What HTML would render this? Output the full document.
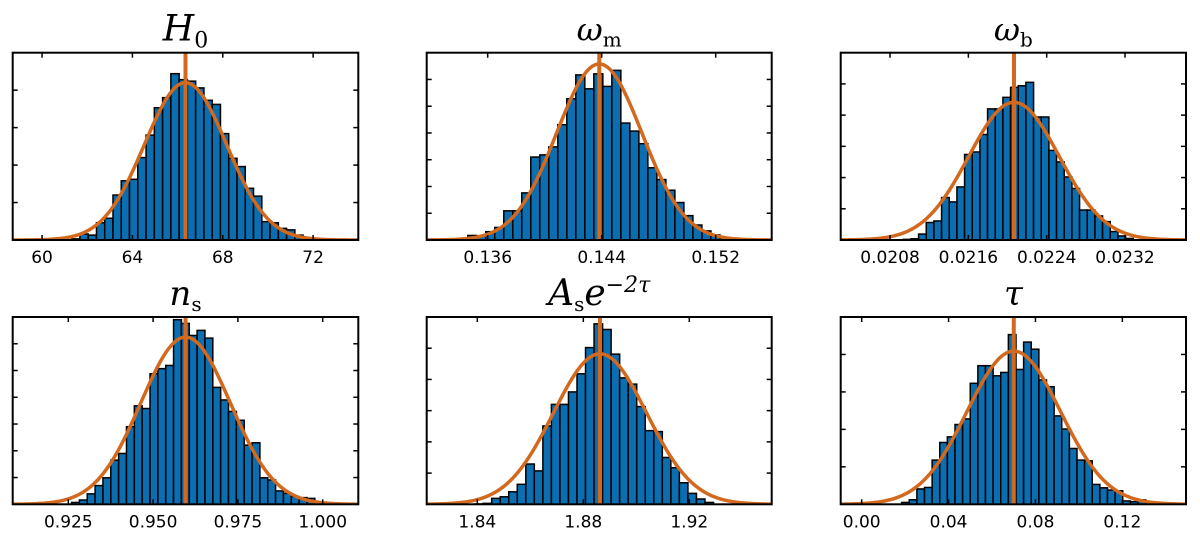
<!DOCTYPE html>
<html><head><meta charset="utf-8"><style>
html,body{margin:0;padding:0;background:#fff;}
svg{display:block;}
.tl{font-family:"DejaVu Sans","Liberation Sans",sans-serif;font-size:17px;fill:#000;}
.tt{font-family:"DejaVu Serif","Liberation Serif",serif;font-style:italic;fill:#000;}
</style></head><body>
<svg id="chart" width="1200" height="545" viewBox="0 0 1200 545"></svg>
<script>
// ---- data ----
const h0Ticks=[60,64,68,72];
const h0Counts=[0.03,0.16,0.13,0.46,0.58,1.2,1.58,1.62,2.2,2.8,3.53,3.8,4.44,4.28,4.24,4.06,3.73,3.62,2.84,2.18,1.96,1.38,1.17,0.49,0.46,0.31,0.27,0.13,0.04];
const h0Fit=[66.35,1.82,4.2];
const wmTicks=[0.136,0.144,0.152];
const wmCounts=[0.17,0.15,0.31,0.47,1.09,1.09,1.76,3.1,3.18,3.48,4.31,5.28,6.17,5.65,6.21,5.74,6.34,4.37,4.07,3.6,2.7,2.26,1.86,1.4,0.91,0.56,0.34,0.19,0.06];
const wmFit=[0.14383,0.003,6.58];
const wbTicks=[0.0208,0.0216,0.0224,0.0232];
const wbCounts=[0.02,0.04,0.19,0.56,0.61,1.36,1.22,1.7,2.74,2.82,3.38,4.2,4.2,4.57,4.89,4.94,5.05,3.94,3.94,2.87,2.5,2.02,1.65,0.96,0.96,0.77,0.59,0.27,0.13,0.05];
const wbFit=[0.022066,0.000463,4.41];
const nsTicks=[0.925,0.950,0.975,1.000];
const nsCounts=[0.07,0.16,0.39,0.7,0.99,1.65,1.9,2.9,3.68,3.58,4.88,5.07,5.19,6.9,6.76,6.31,6.5,6.21,4.37,3.9,3.47,3.14,2.21,2.3,0.99,0.91,0.5,0.41,0.29,0.25,0.22,0.07];
const nsFit=[0.95957,0.0132,6.25];
const asTicks=[1.84,1.88,1.92];
const asCounts=[0.02,0,0,0,0.01,0.03,0.19,0.24,0.4,0.64,1.29,1.07,2.51,3.2,3.2,3.6,4.18,5.02,5.78,5.6,4.81,4.05,3.85,3.13,2.36,2.33,1.5,1.17,0.69,0.35,0.17,0.06];
const asFit=[1.8863,0.0176,4.82];
const tauTicks=[0.00,0.04,0.08,0.12];
const tauCounts=[0.05,0.12,0.41,0.45,1.18,1.65,1.8,2.13,2.28,3.23,3.7,3.7,3.43,3.52,4.53,3.6,4.33,4.14,3.32,3.14,2.36,2.01,1.49,1.18,1.16,0.53,0.44,0.38,0.36,0.09,0.07,0.12,0.03];
const tauFit=[0.07002,0.0215,4.09];

const panels=[
 {name:'h0',title:'H<tspan font-style="normal" font-size="22" dy="7">0</tspan>',tsize:36,px:[12.7,358.3],py:[52.7,240],x:[58.7,74],ymax:5,ticks:h0Ticks,lab:v=>v.toFixed(0),counts:h0Counts,bin:[61.31,0.366],fit:h0Fit},
 {name:'omega-m',title:'ω<tspan font-style="normal" font-size="20" dy="6">m</tspan>',tsize:32,px:[426.7,771.7],py:[52.7,240],x:[0.13172,0.15593],ymax:7,ticks:wmTicks,lab:v=>v.toFixed(3),counts:wmCounts,bin:[0.1346,0.000632],fit:wmFit},
 {name:'omega-b',title:'ω<tspan font-style="normal" font-size="20" dy="6">b</tspan>',tsize:32,px:[840.7,1186],py:[52.7,240],x:[0.020296,0.023823],ymax:6,ticks:wbTicks,lab:v=>v.toFixed(4),counts:wbCounts,bin:[0.020935,0.0000783],fit:wbFit},
 {name:'n-s',title:'n<tspan font-style="normal" font-size="20" dy="6">s</tspan>',tsize:34,px:[12.7,358.3],py:[317,504.3],x:[0.9086,1.0105],ymax:7,ticks:nsTicks,lab:v=>v.toFixed(3),counts:nsCounts,bin:[0.92595,0.002314],fit:nsFit},
 {name:'as-e2tau',title:'A<tspan font-style="normal" font-size="20" dy="6">s</tspan><tspan dy="-6">e</tspan><tspan font-size="22" dy="-13">−2τ</tspan>',tsize:36,px:[426.7,771.7],py:[317,504.3],x:[1.8209,1.9511],ymax:6,ticks:asTicks,lab:v=>v.toFixed(2),counts:asCounts,bin:[1.8261,0.00322],fit:asFit},
 {name:'tau',title:'τ',tsize:34,px:[840.7,1186],py:[317,504.3],x:[-0.00966,0.1493],ymax:5,ticks:tauTicks,lab:v=>v.toFixed(2),counts:tauCounts,bin:[0.01839,0.00351],fit:tauFit}
];
const NS='http://www.w3.org/2000/svg';
const svg=document.getElementById('chart');
function mk(tag,attrs,parent){const e=document.createElementNS(NS,tag);for(const k in attrs)e.setAttribute(k,attrs[k]);(parent||svg).appendChild(e);return e;}
panels.forEach(p=>{
 const g=mk('g',{});
 
 
 const xs=v=>p.px[0]+(v-p.x[0])/(p.x[1]-p.x[0])*(p.px[1]-p.px[0]);
 const ys=v=>p.py[1]-v/p.ymax*(p.py[1]-p.py[0]);
 const cid='clip-'+p.name;
 const cp=mk('clipPath',{id:cid},g);
 mk('rect',{x:p.px[0],y:p.py[0],width:p.px[1]-p.px[0],height:p.py[1]-p.py[0]},cp);
 const bg=mk('g',{'clip-path':'url(#'+cid+')'},g);
 p.counts.forEach((c,i)=>{
  const x0=xs(p.bin[0]+i*p.bin[1]),x1=xs(p.bin[0]+(i+1)*p.bin[1]);
  const r=mk('rect',{x:x0,y:ys(c),width:x1-x0,height:ys(0)-ys(c),fill:'#0a6eb0',stroke:'#000','stroke-width':1.5},bg);
  
  
 });
 let d='';
 for(let k=0;k<=200;k++){const v=p.x[0]+(p.x[1]-p.x[0])*k/200;const yv=p.fit[2]*Math.exp(-0.5*Math.pow((v-p.fit[0])/p.fit[1],2));d+=(k?'L':'M')+xs(v).toFixed(2)+','+ys(yv).toFixed(2);}
 const cu=mk('path',{d:d,fill:'none',stroke:'#d2691e','stroke-width':3.5},bg);
 
 
 const vl=mk('line',{x1:xs(p.fit[0]),x2:xs(p.fit[0]),y1:p.py[0],y2:p.py[1],stroke:'#d2691e','stroke-width':4},g);
 
 
 const fr=mk('rect',{x:p.px[0],y:p.py[0],width:p.px[1]-p.px[0],height:p.py[1]-p.py[0],fill:'none',stroke:'#000','stroke-width':2},g);
 
 
 p.ticks.forEach(t=>{
  const x=xs(t);
  mk('line',{x1:x,x2:x,y1:p.py[1],y2:p.py[1]-5,stroke:'#000','stroke-width':1.5},g);
  mk('line',{x1:x,x2:x,y1:p.py[0],y2:p.py[0]+5,stroke:'#000','stroke-width':1.5},g);
  const tx=mk('text',{x:x,y:p.py[1]+23,'text-anchor':'middle',class:'tl'},g);
  tx.textContent=p.lab(t);
  
  
 });
 for(let k=1;k<p.ymax;k++){
  const y=ys(k);
  mk('line',{x1:p.px[0],x2:p.px[0]+5,y1:y,y2:y,stroke:'#000','stroke-width':1.5},g);
  mk('line',{x1:p.px[1],x2:p.px[1]-5,y1:y,y2:y,stroke:'#000','stroke-width':1.5},g);
 }
 const ti=mk('text',{x:(p.px[0]+p.px[1])/2,y:p.py[0]-12,'text-anchor':'middle',class:'tt','font-size':p.tsize},g);
 ti.innerHTML=p.title;
 
 
});
</script>
</body></html>
